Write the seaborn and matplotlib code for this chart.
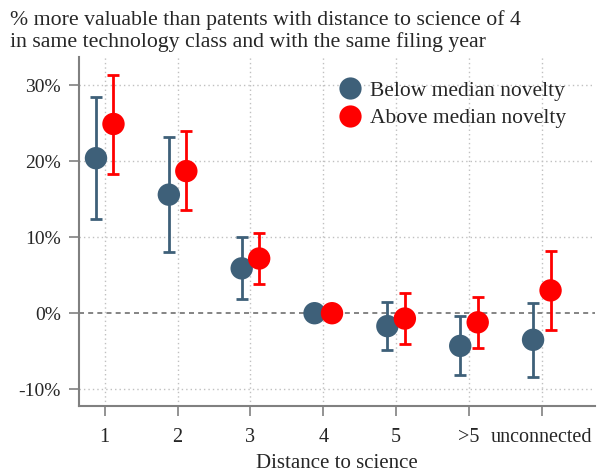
import numpy as np
import pandas as pd
import seaborn as sns
import matplotlib.pyplot as plt
from matplotlib.lines import Line2D

# ---- data ----
categories = ['1', '2', '3', '4', '5', '>5', 'unconnected']
series = ['Below median novelty', 'Above median novelty']
below_est = [20.4, 15.6, 5.9, 0.0, -1.7, -4.3, -3.5]
below_lo = [12.4, 8.1, 1.9, np.nan, -4.8, -8.1, -8.4]
below_hi = [28.4, 23.2, 10.0, np.nan, 1.5, -0.4, 1.3]
above_est = [24.9, 18.7, 7.2, 0.0, -0.7, -1.2, 3.0]
above_lo = [18.3, 13.6, 3.9, np.nan, -4.0, -4.6, -2.2]
above_hi = [31.4, 24.0, 10.6, np.nan, 2.6, 2.1, 8.2]
yticks = [-10, 0, 10, 20, 30]

colors = {series[0]: '#3e6079', series[1]: '#ff0000'}
offsets = {series[0]: -0.12, series[1]: 0.12}

rows = []
for s, est, lo, hi in [(series[0], below_est, below_lo, below_hi),
                       (series[1], above_est, above_lo, above_hi)]:
    for i, c in enumerate(categories):
        rows.append(dict(series=s, cat=c, pos=i + 1 + offsets[s],
                         est=est[i], lo=lo[i], hi=hi[i]))
df = pd.DataFrame(rows)

sns.set_style('ticks')
plt.rcParams['font.family'] = ['Liberation Serif', 'DejaVu Serif']

fig = plt.figure(figsize=(6.01, 4.72), dpi=100)
ax = fig.add_axes([0.131, 0.140, 0.859, 0.739])

# grid
for i in range(len(categories)):
    ax.axvline(i + 1, color='#c0c0c0', lw=1.0, ls=(0, (1, 2.2)), zorder=0)
for v in yticks:
    if v != 0:
        ax.axhline(v, color='#c0c0c0', lw=1.0, ls=(0, (1, 2.2)), zorder=0)
ax.axhline(0, color='#707070', lw=1.2, ls=(0, (3, 2.5)), zorder=1)

# error bars
for s in series:
    d = df[df.series == s].dropna()
    ax.errorbar(d.pos, d.est, yerr=[d.est - d.lo, d.hi - d.est], fmt='none',
                ecolor=colors[s], elinewidth=2, capsize=4, capthick=2, zorder=2)

sns.scatterplot(data=df, x='pos', y='est', hue='series', palette=colors,
                s=260, edgecolor='none', linewidth=0, legend=False, ax=ax, zorder=3)

ax.set_xlim(0.643, 7.73)
ax.set_ylim(-12.2, 33.7)
ax.set_xticks(range(1, len(categories) + 1))
ax.set_xticklabels(categories, fontsize=14.5)
ax.set_yticks(yticks)
ax.set_yticklabels([f'{v}%' for v in yticks], fontsize=14)
ax.set_xlabel('Distance to science', fontsize=15, labelpad=5)
ax.set_ylabel('')

for sp in ['top', 'right']:
    ax.spines[sp].set_visible(False)
for sp in ['left', 'bottom']:
    ax.spines[sp].set_color('#808080')
    ax.spines[sp].set_linewidth(1.5)
ax.tick_params(axis='both', color='#808080', length=7, width=1.2, pad=6)
ax.tick_params(axis='x', pad=9)

handles = [Line2D([0], [0], marker='o', ls='none', markersize=16,
                  markerfacecolor=colors[s], markeredgecolor='none') for s in series]
ax.legend(handles, series, loc='upper left', bbox_to_anchor=(0.455, 0.975),
          frameon=False, fontsize=15.5, handletextpad=-0.1, labelspacing=0.33,
          borderaxespad=0.3)

fig.text(0.017, 0.978, '% more valuable than patents with distance to science of 4\n'
         'in same technology class and with the same filing year',
         fontsize=15.7, ha='left', va='top', linespacing=1.1)

fig.savefig('out.png', dpi=100)
